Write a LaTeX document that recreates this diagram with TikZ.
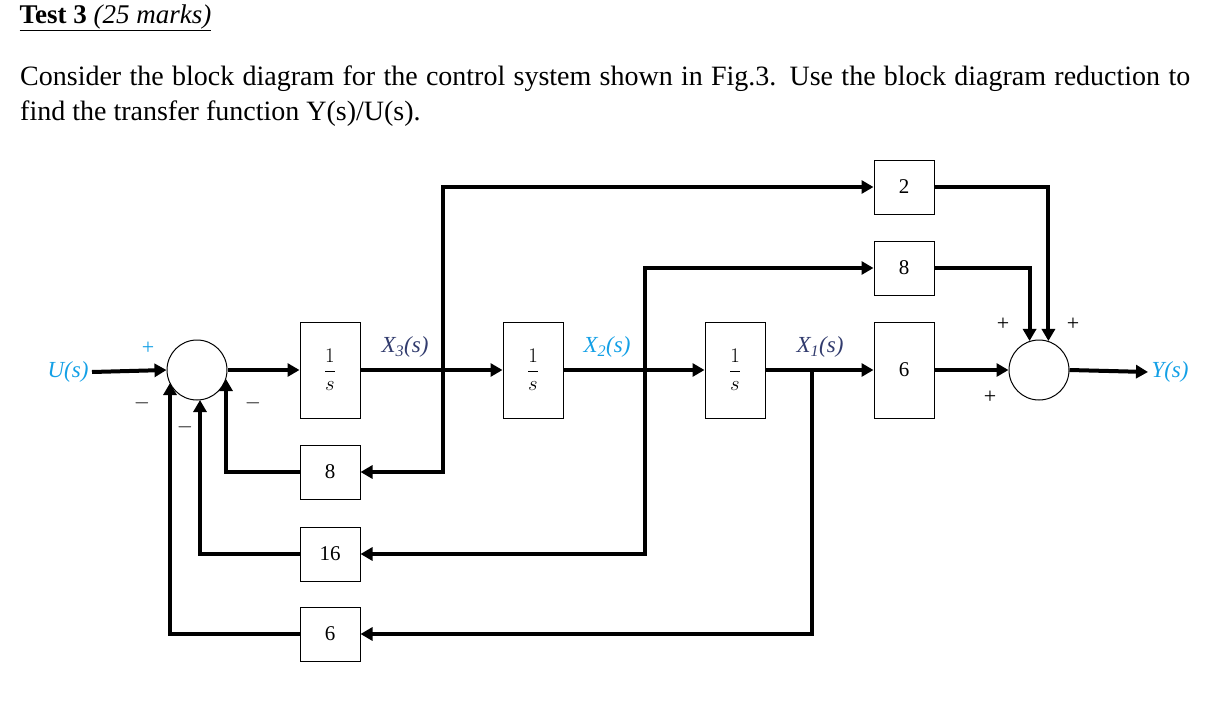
\documentclass[tikz,border=0pt]{standalone}
\usepackage{fontspec}
\setmainfont{Liberation Serif}
\usetikzlibrary{arrows.meta}
\definecolor{lb}{RGB}{20,160,230}
\definecolor{db}{RGB}{50,60,110}
\begin{document}
\begin{tikzpicture}[x=1pt,y=-1pt,
 blk/.style={draw,line width=1pt,minimum width=60pt,inner sep=0pt,font=\fontsize{21}{22}\selectfont},
 sum/.style={draw,circle,line width=1pt,minimum size=60pt,inner sep=0pt},
 w/.style={line width=4pt,-{Triangle[length=12pt,width=13pt]}},
 lab/.style={font=\fontsize{23}{24}\selectfont\itshape},
 sg/.style={font=\fontsize{22}{22}\selectfont}]
\useasboundingbox (0,0) rectangle (1218,715);
\node[anchor=west,font=\fontsize{27}{30}\selectfont] (title) at (16,18) {\underline{\textbf{Test 3} \textit{(25 marks)}}};
\node[anchor=north west,text width=1170pt,align=justify,font=\fontsize{28}{35}\selectfont,inner sep=0pt] (txt) at (20,66) {Consider the block diagram for the control system shown in Fig.3. Use the block diagram reduction to find the transfer function Y(s)/U(s).};
\node[sum] (s1) at (197,370) {};
\node[sum] (s2) at (1039,370) {};
\node[blk,minimum height=96pt] (i1) at (330,370) {$\displaystyle\frac{1}{s}$};
\node[blk,minimum height=96pt] (i2) at (533,370) {$\displaystyle\frac{1}{s}$};
\node[blk,minimum height=96pt] (i3) at (735,370) {$\displaystyle\frac{1}{s}$};
\node[blk,minimum height=96pt] (g6) at (904,370) {6};
\node[blk,minimum height=54pt] (g2) at (904,187) {2};
\node[blk,minimum height=54pt] (g8) at (904,268) {8};
\node[blk,minimum height=54pt] (f8) at (330,472) {8};
\node[blk,minimum height=54pt] (f16) at (330,554) {16};
\node[blk,minimum height=54pt] (f6) at (330,634) {6};
\node[lab,text=lb,anchor=east] (U) at (92,372) {U(s)};
\node[lab,text=lb,anchor=west] (Y) at (1148,372) {Y(s)};
\node[lab,text=db] (x3) at (405,347) {X\textsubscript{3}(s)};
\node[lab,text=lb] (x2) at (607,347) {X\textsubscript{2}(s)};
\node[lab,text=db] (x1) at (820,347) {X\textsubscript{1}(s)};
\coordinate (b3) at (443,370);
\coordinate (b2) at (645,370);
\coordinate (b1) at (812,370);
\coordinate (e8) at (226,379);
\coordinate (e16) at (200,400);
\coordinate (e6) at (170,383);
\draw[w] (U.east) -- (s1.west);
\draw[w] (s1.east) -- (i1.west);
\draw[w] (i1.east) -- (i2.west);
\draw[w] (i2.east) -- (i3.west);
\draw[w] (i3.east) -- (g6.west);
\draw[w] (g6.east) -- (s2.west);
\draw[w] (s2.east) -- (Y.west);
\draw[w] (b3) |- (g2.west);
\draw[w] (b3) |- (f8.east);
\draw[w] (b2) |- (g8.west);
\draw[w] (b2) |- (f16.east);
\draw[w] (b1) |- (f6.east);
\draw[w] (f8.west) -| (e8);
\draw[w] (f16.west) -| (e16);
\draw[w] (f6.west) -| (e6);
\draw[w] (g2.east) -| (s2.72);
\draw[w] (g8.east) -| (s2.108);
\node[sg,text=lb] (p1) at (148,348) {+};
\node[sg] (m1) at (142,403) {$-$};
\node[sg] (m2) at (253,403) {$-$};
\node[sg] (m3) at (185,427) {$-$};
\node[sg] (p2) at (1003,324) {+};
\node[sg] (p3) at (1073,324) {+};
\node[sg] (p4) at (990,397) {+};
\end{tikzpicture}
\end{document}
